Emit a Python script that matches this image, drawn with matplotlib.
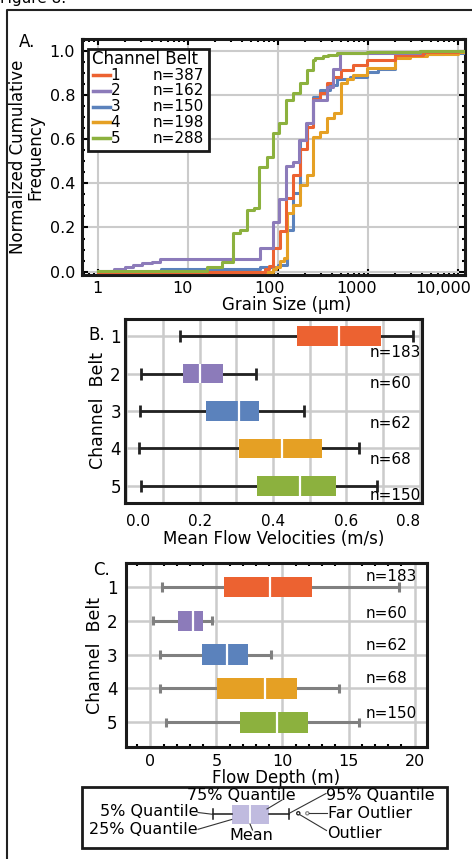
import matplotlib
matplotlib.use("Agg")
import matplotlib.pyplot as plt
from matplotlib.patches import Rectangle, Circle
from matplotlib.ticker import MultipleLocator, LogLocator, NullFormatter

W, H = 472, 859

belts = [1, 2, 3, 4, 5]
belt_colors = ['#EC6231', '#8C7BBA', '#5B82BC', '#E5A024', '#8CB13E']

# panel A - cumulative grain size curves (step positions)
grain_n = [387, 162, 150, 198, 288]
gs_x1 = [1, 72, 80, 88, 106, 124, 149, 177, 210, 249, 295, 350, 415, 500, 690, 975, 2000, 4150, 10000, 12000]
gs_y1 = [0.0, 0.011, 0.025, 0.109, 0.186, 0.332, 0.438, 0.553, 0.656, 0.78, 0.807, 0.855, 0.882, 0.913, 0.935, 0.958, 0.98, 0.995, 1.0, 1.0]
gs_x2 = [1, 1.5, 2, 2.5, 3.1, 4, 4.9, 63, 88, 104, 124, 147, 174, 206, 249, 350, 415, 492, 3800, 12000]
gs_y2 = [0.005, 0.013, 0.022, 0.031, 0.04, 0.045, 0.057, 0.106, 0.226, 0.328, 0.478, 0.498, 0.596, 0.672, 0.777, 0.837, 0.916, 0.988, 1.0, 1.0]
gs_x3 = [1, 5, 63, 100, 128, 149, 177, 210, 249, 298, 380, 452, 636, 976, 1300, 2000, 2950, 4500, 7000, 12000]
gs_y3 = [0.0, 0.01, 0.02, 0.03, 0.189, 0.355, 0.596, 0.672, 0.79, 0.822, 0.845, 0.87, 0.88, 0.905, 0.915, 0.975, 0.98, 0.985, 0.99, 0.99]
gs_x4 = [1, 89, 95, 106, 118, 126, 149, 177, 210, 249, 295, 356, 423, 500, 584, 692, 975, 2000, 2950, 4500, 10000, 12000]
gs_y4 = [0.0, 0.01, 0.02, 0.05, 0.06, 0.264, 0.302, 0.392, 0.438, 0.611, 0.633, 0.694, 0.717, 0.855, 0.87, 0.89, 0.92, 0.966, 0.976, 0.985, 0.995, 0.995]
gs_x5 = [1, 16.3, 24, 32, 38, 45, 55, 62.5, 75, 89, 104, 124, 147, 177, 210, 249, 260, 321, 365, 452, 975, 3800, 12000]
gs_y5 = [0.005, 0.023, 0.045, 0.175, 0.19, 0.28, 0.29, 0.475, 0.52, 0.626, 0.674, 0.777, 0.807, 0.855, 0.91, 0.958, 0.966, 0.973, 0.98, 0.988, 0.995, 1.0, 1.0]
grain_x = [gs_x1, gs_x2, gs_x3, gs_x4, gs_x5]
grain_y = [gs_y1, gs_y2, gs_y3, gs_y4, gs_y5]
grain_ticks = [1, 10, 100, 1000, 10000]
grain_ticklabels = ['1', '10', '100', '1000', '10,000']

# panel B - mean flow velocity (m/s)
vel_n = [183, 60, 62, 68, 150]
vel_q05 = [0.147, 0.039, 0.038, 0.035, 0.039]
vel_q25 = [0.465, 0.153, 0.218, 0.307, 0.356]
vel_mean = [0.58, 0.20, 0.307, 0.423, 0.473]
vel_q75 = [0.693, 0.262, 0.362, 0.532, 0.571]
vel_q95 = [0.782, 0.353, 0.484, 0.635, 0.682]

# panel C - flow depth (m)
dep_n = [183, 60, 62, 68, 150]
dep_q05 = [0.88, 0.2, 0.7, 0.76, 1.16]
dep_q25 = [5.6, 2.07, 3.9, 5.08, 6.8]
dep_mean = [9.04, 3.23, 5.8, 8.7, 9.55]
dep_q75 = [12.25, 4.0, 7.4, 11.1, 11.95]
dep_q95 = [18.8, 4.67, 9.14, 14.3, 15.8]

GRID = '#cbcbcb'
FS_TICK = 11
FS_LAB = 12

plt.rcParams['font.family'] = ['DejaVu Sans']

fig = plt.figure(figsize=(W / 100, H / 100), dpi=100)


def rect(l, t, r, b):
    return [l / W, 1 - b / H, (r - l) / W, (b - t) / H]


def style_frame(ax):
    for s in ax.spines.values():
        s.set_linewidth(2.2)
        s.set_color('#1a1a1a')


# ---------- A ----------
axA = fig.add_axes(rect(82, 39, 465, 275))
order = [2, 3, 0, 1, 4]
for i in order:
    axA.step(grain_x[i], grain_y[i], where='post', color=belt_colors[i], lw=2.2, zorder=3)
axA.set_xscale('log')
axA.set_xlim(0.67, 12000)
axA.set_ylim(-0.015, 1.052)
axA.set_xticks(grain_ticks)
axA.xaxis.set_minor_locator(LogLocator(base=10, subs=range(2, 10)))
axA.xaxis.set_minor_formatter(NullFormatter())
axA.set_xticklabels([])
axA.set_yticks([0, 0.2, 0.4, 0.6, 0.8, 1.0])
axA.set_yticklabels(['0.0', '0.2', '0.4', '0.6', '0.8', '1.0'], fontsize=FS_TICK + 0.5)
axA.yaxis.set_minor_locator(MultipleLocator(0.05))
axA.grid(True, which='major', color=GRID, lw=1.5)
axA.set_axisbelow(True)
axA.tick_params(which='both', direction='in', top=True, right=True, width=1.5)
axA.tick_params(which='major', length=4, pad=5)
axA.tick_params(which='minor', length=2.5)
style_frame(axA)
shift = [0, -5, -8, -11, -15]
for t, lab, dx in zip(grain_ticks, grain_ticklabels, shift):
    axA.annotate(lab, xy=(t, 0), xycoords=('data', 'axes fraction'), xytext=(dx, -6),
                 textcoords='offset pixels', ha='center', va='top', fontsize=FS_TICK + 0.5,
                 annotation_clip=False)
axA.set_ylabel('Normalized Cumulative\nFrequency', fontsize=FS_LAB, linespacing=0.95, labelpad=4)
fig.text(287 / W, 1 - 305 / H, 'Grain Size (µm)', ha='center', va='center', fontsize=FS_LAB)


def box_panel(ax, q05, q25, mean, q75, q95, bh, cap, wcol, wlw):
    ax.hlines(belts, q05, q95, color=wcol, lw=wlw, zorder=2)
    ax.vlines(q05, [b - cap for b in belts], [b + cap for b in belts], color=wcol, lw=wlw, zorder=2)
    ax.vlines(q95, [b - cap for b in belts], [b + cap for b in belts], color=wcol, lw=wlw, zorder=2)
    ax.barh(belts, [h - l for l, h in zip(q25, q75)], left=q25, height=bh,
            color=belt_colors, zorder=3)
    ax.vlines(mean, [b - bh / 2 for b in belts], [b + bh / 2 for b in belts],
              color='white', lw=1.6, zorder=4)
    ax.set_yticks(belts)
    ax.set_yticklabels([str(b) for b in belts], fontsize=FS_LAB)
    ax.grid(True, axis='y', color=GRID, lw=1.8)
    ax.set_axisbelow(True)
    ax.set_ylabel('Channel  Belt', fontsize=FS_LAB + 0.5, labelpad=2)
    style_frame(ax)


# ---------- B ----------
axB = fig.add_axes(rect(125, 319, 422, 503))
box_panel(axB, vel_q05, vel_q25, vel_mean, vel_q75, vel_q95, 0.52, 0.16, '#222222', 2.0)
axB.set_xlim(-0.004, 0.806)
axB.set_ylim(5.46, 0.54)
axB.set_xticks([0, 0.2, 0.4, 0.6, 0.8])
axB.set_xticklabels(['0.0', '0.2', '0.4', '0.6', '0.8'], fontsize=FS_TICK)
axB.get_xticklabels()[0].set_ha('left')
axB.get_xticklabels()[-1].set_ha('right')
axB.xaxis.set_minor_locator(MultipleLocator(0.1))
axB.grid(True, axis='x', which='both', color=GRID, lw=1.8)
axB.tick_params(which='both', direction='in', length=0, pad=8)
axB.tick_params(axis='y', pad=3)
axB.set_xlabel('Mean Flow Velocities (m/s)', fontsize=FS_LAB, labelpad=1)
n_off_B = [0.43, 0.27, 0.34, 0.30, 0.25]
for b, n, o in zip(belts, vel_n, n_off_B):
    axB.text(0.662, b + o, f'n={n}', fontsize=FS_TICK, ha='left', va='center', zorder=5)

# ---------- C ----------
axC = fig.add_axes(rect(126, 563, 427, 747))
box_panel(axC, dep_q05, dep_q25, dep_mean, dep_q75, dep_q95, 0.61, 0.135, '#808080', 2.2)
axC.set_xlim(-1.84, 20.94)
axC.set_ylim(5.73, 0.29)
axC.set_xticks([0, 5, 10, 15, 20])
axC.set_xticklabels(['0', '5', '10', '15', '20'], fontsize=FS_TICK + 0.5)
axC.xaxis.set_minor_locator(MultipleLocator(1))
axC.grid(True, axis='x', which='major', color=GRID, lw=1.8)
axC.tick_params(which='both', direction='in', top=True, width=1.5)
axC.tick_params(axis='x', which='major', length=0, pad=5)
axC.tick_params(axis='x', which='minor', length=2.5)
axC.tick_params(axis='y', length=0, pad=6)
axC.set_xlabel('Flow Depth (m)', fontsize=FS_LAB, labelpad=0)
n_off_C = [-0.30, -0.22, -0.27, -0.30, -0.27]
for b, n, o in zip(belts, dep_n, n_off_C):
    axC.text(16.3, b + o, f'n={n}', fontsize=FS_TICK, ha='left', va='center', zorder=5)

# ---------- overlay in pixel coordinates ----------
ov = fig.add_axes([0, 0, 1, 1])
ov.set_xlim(0, W)
ov.set_ylim(H, 0)
ov.axis('off')

# outer frame and figure caption
ov.plot([7, 7, W + 5], [H + 5, 9.5, 9.5], color='#222222', lw=1.5, clip_on=False)
ov.text(0, 3.5, 'Figure 8.', fontsize=11, ha='left', va='baseline')
ov.text(27, 42, 'A.', fontsize=FS_LAB, ha='center', va='center')
ov.text(97, 335, 'B.', fontsize=FS_LAB, ha='center', va='center')
ov.text(102, 570, 'C.', fontsize=FS_LAB, ha='center', va='center')

# legend of panel A
ov.add_patch(Rectangle((88, 49), 121, 102, fc='white', ec='#1a1a1a', lw=2, zorder=5))
ov.text(92, 59, 'Channel Belt', fontsize=FS_LAB, ha='left', va='center', zorder=6)
for k, (b, n, c) in enumerate(zip(belts, grain_n, belt_colors)):
    yy = 75 + 15.8 * k
    ov.plot([92.5, 109.5], [yy, yy], color=c, lw=2.5, zorder=6)
    ov.text(110.5, yy, str(b), fontsize=11, ha='left', va='center', zorder=6)
    ov.text(153, yy, f'n={n}', fontsize=11, ha='left', va='center', zorder=6)

# box plot key
ov.add_patch(Rectangle((82, 787), 365, 61, fc='white', ec='#1a1a1a', lw=2))
ov.add_patch(Rectangle((231.7, 805), 37.6, 19, fc='#C0BBDF', ec='none'))
ov.plot([250, 250], [805, 824], color='white', lw=1.3)
kc = '#1a1a1a'
ov.plot([212.7, 231.7], [814.3, 814.3], color=kc, lw=1.1)
ov.plot([212.7, 212.7], [809.3, 819.3], color=kc, lw=1.1)
ov.plot([269.3, 289.3], [814.3, 814.3], color=kc, lw=1.1)
ov.plot([289.3, 289.3], [809.3, 819.3], color=kc, lw=1.1)
ov.add_patch(Circle((298.3, 813.3), 1.6, fc='white', ec=kc, lw=0.9))
ov.add_patch(Circle((307.3, 813.3), 1.6, fc='white', ec='#888888', lw=0.9))
lc = '#333333'
ov.plot([198, 212.7], [812.5, 814.3], color=lc, lw=0.8)
ov.plot([198, 231.7], [829.3, 819.5], color=lc, lw=0.8)
ov.plot([250, 252.5], [824, 830], color=lc, lw=0.8)
ov.plot([267, 282], [809, 800], color=lc, lw=0.8)
ov.plot([289.3, 326], [813.3, 793.5], color=lc, lw=0.8)
ov.plot([309, 327], [813.3, 813.3], color=lc, lw=0.8)
ov.plot([299.5, 326.5], [814.5, 830.5], color=lc, lw=0.8)
fk = 11.5
ov.text(241.7, 795, '75% Quantile', fontsize=fk, ha='center', va='center')
ov.text(198, 811, '5% Quantile', fontsize=fk, ha='right', va='center')
ov.text(198, 829, '25% Quantile', fontsize=fk, ha='right', va='center')
ov.text(251.7, 836, 'Mean', fontsize=fk, ha='center', va='center')
ov.text(326.5, 795, '95% Quantile', fontsize=fk, ha='left', va='center')
ov.text(328, 814, 'Far Outlier', fontsize=fk, ha='left', va='center')
ov.text(327.5, 833, 'Outlier', fontsize=fk, ha='left', va='center')

fig.savefig('out.png', dpi=100)
